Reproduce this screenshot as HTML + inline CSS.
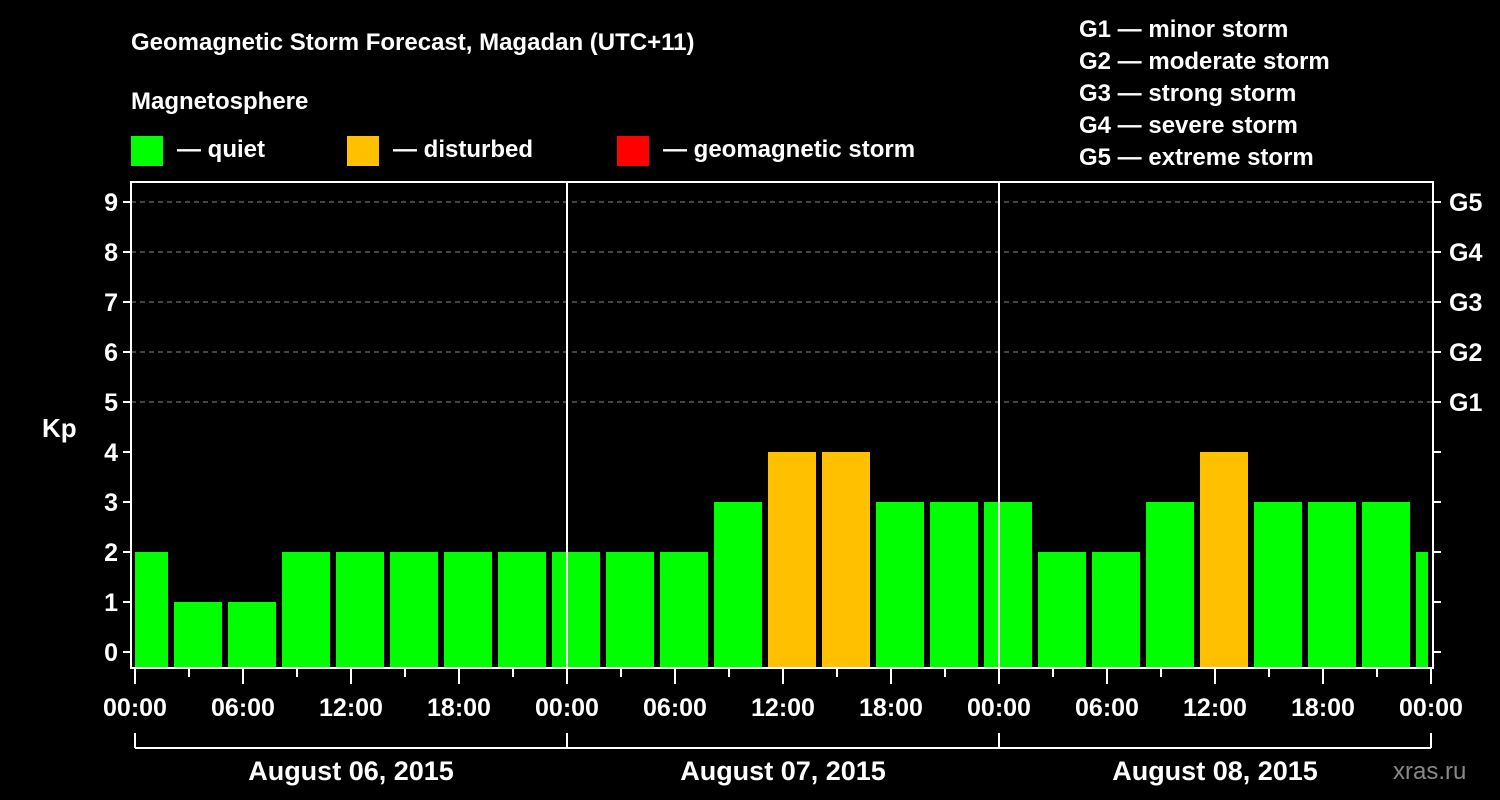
<!DOCTYPE html>
<html><head><meta charset="utf-8"><style>
html,body{margin:0;padding:0;background:#000;}
svg{display:block;font-family:"Liberation Sans",Arial,sans-serif;font-weight:bold;}
</style></head><body>
<svg id="chart" width="1500" height="800" viewBox="0 0 1500 800">
<rect x="0" y="0" width="1500" height="800" fill="#000"/>
<text x="131" y="50" fill="#fff" font-size="24">Geomagnetic Storm Forecast, Magadan (UTC+11)</text>
<text x="131" y="109" fill="#fff" font-size="24">Magnetosphere</text>
<g><rect x="131" y="136" width="32" height="30" fill="#00ff00"/><text x="177" y="157" fill="#fff" font-size="24">— quiet</text></g>
<g><rect x="347" y="136" width="32" height="30" fill="#ffc000"/><text x="393" y="157" fill="#fff" font-size="24">— disturbed</text></g>
<g><rect x="617" y="136" width="32" height="30" fill="#ff0000"/><text x="663" y="157" fill="#fff" font-size="24">— geomagnetic storm</text></g>
<g fill="#fff" font-size="24">
<text x="1079" y="37">G1 — minor storm</text>
<text x="1079" y="69">G2 — moderate storm</text>
<text x="1079" y="101">G3 — strong storm</text>
<text x="1079" y="133">G4 — severe storm</text>
<text x="1079" y="165">G5 — extreme storm</text>
</g>
<g id="plot"></g>
<text x="42" y="437" fill="#fff" font-size="26">Kp</text>
<text x="1393" y="779" fill="#888" font-size="24" font-weight="normal">xras.ru</text>
</svg>
<script>
const kpValues=[2,1,1,2,2,2,2,2,2,2,2,3,4,4,3,3,3,2,2,3,4,3,3,3,2];
const binStartHour=-1;
const binHours=3;
const yTicks=[0,1,2,3,4,5,6,7,8,9];
const gLabels=["","","","","","G1","G2","G3","G4","G5"];
const xTickLabels=["00:00","06:00","12:00","18:00","00:00","06:00","12:00","18:00","00:00","06:00","12:00","18:00","00:00"];
const dayLabels=["August 06, 2015","August 07, 2015","August 08, 2015"];
const L=131,R=1433,T=182,B=668,X0=135,X1=1431;
const x=h=>X0+h*(X1-X0)/72;
const y=v=>652-v*50;
const color=v=>v>=5?"#ff0000":(v>=4?"#ffc000":"#00ff00");
const NS="http://www.w3.org/2000/svg";
const g=document.getElementById("plot");
function mk(t,a,p){const e=document.createElementNS(NS,t);for(const k in a)e.setAttribute(k,a[k]);(p||g).appendChild(e);return e;}
yTicks.forEach(v=>{if(v>=5){const l=mk("line",{x1:L,x2:R,y1:y(v),y2:y(v),stroke:"#888","stroke-dasharray":"5,4","stroke-width":1});

}});
kpValues.forEach((v,i)=>{const h0=binStartHour+i*binHours;let a=x(h0)+3,b=x(h0+binHours)-3;a=Math.max(a,X0);b=Math.min(b,1428);
const r=mk("rect",{x:a,y:y(v),width:b-a,height:B-y(v),fill:color(v)});

});
[24,48].forEach(h=>{const l=mk("line",{x1:x(h),x2:x(h),y1:T,y2:B,stroke:"#fff","stroke-width":2});

});
const f=mk("rect",{x:L,y:T,width:R-L,height:B-T,fill:"none",stroke:"#fff","stroke-width":2});


yTicks.forEach((v,i)=>{mk("line",{x1:L-8,x2:L,y1:y(v),y2:y(v),stroke:"#fff","stroke-width":2});
mk("line",{x1:R,x2:R+8,y1:y(v),y2:y(v),stroke:"#fff","stroke-width":2});
const t=mk("text",{x:L-13,y:y(v)+9,fill:"#fff","font-size":25,"text-anchor":"end"});t.textContent=v;


if(gLabels[i]){const t2=mk("text",{x:R+16,y:y(v)+9,fill:"#fff","font-size":25});t2.textContent=gLabels[i];

}});
for(let h=0;h<=72;h+=3){const maj=h%6===0;mk("line",{x1:x(h),x2:x(h),y1:B,y2:B+(maj?16:9),stroke:"#fff","stroke-width":2});}
xTickLabels.forEach((s,i)=>{const t=mk("text",{x:x(i*6),y:716,fill:"#fff","font-size":25,"text-anchor":"middle"});t.textContent=s;

});
mk("line",{x1:X0,x2:X1,y1:748,y2:748,stroke:"#fff","stroke-width":2});
[0,24,48,72].forEach(h=>mk("line",{x1:x(h),x2:x(h),y1:733,y2:748,stroke:"#fff","stroke-width":2}));
dayLabels.forEach((s,i)=>{const t=mk("text",{x:x(i*24+12),y:780,fill:"#fff","font-size":27,"text-anchor":"middle"});t.textContent=s;

});
</script>
</body></html>
